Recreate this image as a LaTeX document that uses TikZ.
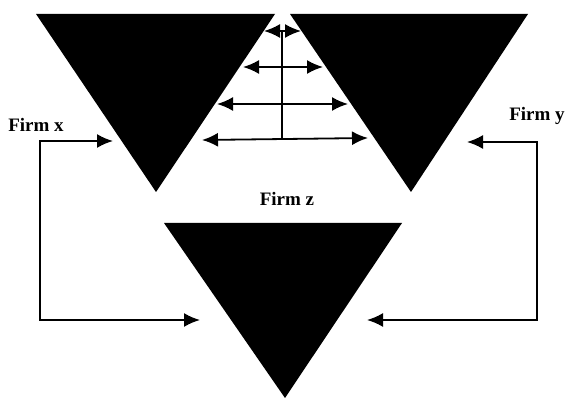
\documentclass[tikz,border=0pt]{standalone}
\usepackage{fontspec}
\setmainfont{Liberation Serif}
\usetikzlibrary{arrows.meta}
\begin{document}
\begin{tikzpicture}[x=1pt,y=-1pt,
  tri/.style={fill=black},
  twoway/.style={line width=1.8pt,{Latex[length=16pt,width=14pt]}-{Latex[length=16pt,width=14pt]}},
  plain/.style={line width=1.8pt},
  lab/.style={font=\fontsize{19}{22}\selectfont\bfseries, inner sep=0pt, anchor=base}]
\useasboundingbox[fill=white] (0,0) rectangle (568,398);
% triangles
\fill[tri] (36,14) -- (275,14) -- (156,192) -- cycle;
\fill[tri] (290,14) -- (528,14) -- (411,192) -- cycle;
\fill[tri] (164,223) -- (402,223) -- (285,398) -- cycle;
% labels
\node[lab] (fx) at (36,132) {Firm x};
\node[lab] (fy) at (537,121) {Firm y};
\node[lab] (fz) at (287,206) {Firm z};
% central link
\coordinate (vt) at (282,30);
\coordinate (vb) at (282,140);
\draw[plain] (vt) -- (vb);
\coordinate (l1) at (264,31);  \coordinate (r1) at (301,31);
\coordinate (l2) at (243,67);  \coordinate (r2) at (323,67);
\coordinate (l3) at (217,104); \coordinate (r3) at (348,104);
\coordinate (l4) at (202,140); \coordinate (r4) at (368,138);
\draw[twoway] (l1) -- (r1);
\draw[twoway] (l2) -- (r2);
\draw[twoway] (l3) -- (r3);
\draw[twoway] (l4) -- (r4);
% feedback loops
\coordinate (xa) at (113,141);
\coordinate (xc1) at (40,141);
\coordinate (xc2) at (40,320);
\coordinate (za) at (200,320);
\draw[twoway] (xa) -- (xc1) -- (xc2) -- (za);
\coordinate (ya) at (467,142);
\coordinate (yc1) at (537,142);
\coordinate (yc2) at (537,320);
\coordinate (zb) at (367,320);
\draw[twoway] (ya) -- (yc1) -- (yc2) -- (zb);
\end{tikzpicture}
\end{document}
